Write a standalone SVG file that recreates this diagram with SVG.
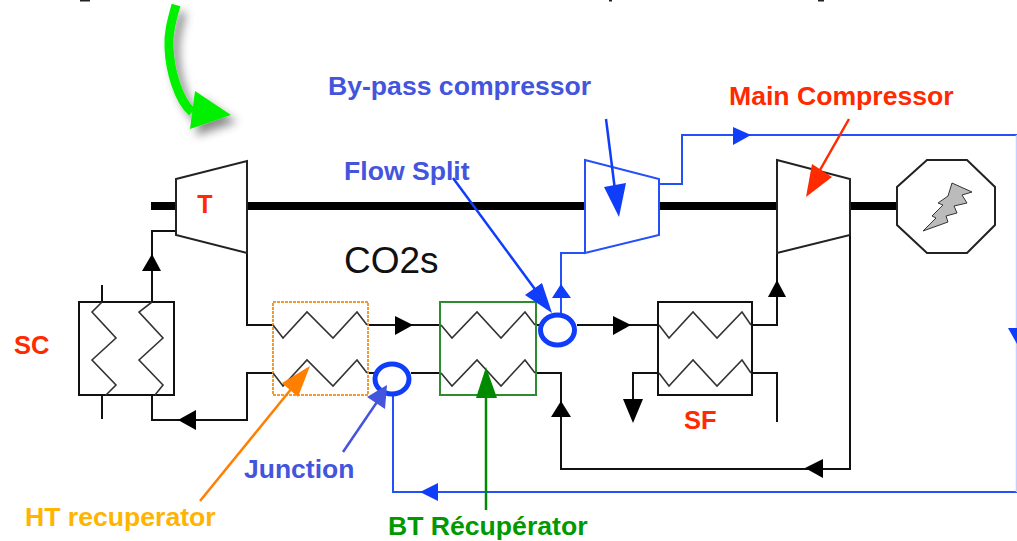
<svg xmlns="http://www.w3.org/2000/svg" width="1017" height="541" viewBox="0 0 1017 541">
<defs>
<style>
text{font-family:"Liberation Sans",Arial,sans-serif;font-weight:700}
.k{fill:none;stroke:#111;stroke-width:2}
.z{fill:none;stroke:#333;stroke-width:1.6}
.b{fill:none;stroke:#2350f8;stroke-width:2}
.ah{fill:#000}
.bh{fill:#0f3dfa}
.shaft{stroke:#000;stroke-width:8;fill:none}
.machine{fill:#fff;stroke:#222;stroke-width:2}
.ring{fill:none;stroke:#0f3dfa;stroke-width:5}
</style>
<filter id="sh" x="-50%" y="-50%" width="200%" height="200%"><feDropShadow dx="6" dy="7" stdDeviation="5" flood-color="#000" flood-opacity="0.45"/></filter>
</defs>
<rect width="1017" height="541" fill="#fff"/>
<g id="top-marks" fill="#222"><rect x="80" y="0" width="10" height="1.5"/><rect x="609" y="0" width="3" height="1.5"/><rect x="818" y="0" width="6" height="1.5"/></g>
<g id="green-arrow" filter="url(#sh)">
<path d="M176 5C171 23 168 35 169 48C170 70 178 100 192 112" fill="none" stroke="#00f000" stroke-width="9"/>
<polygon points="195,91 231,115 190,129" fill="#00f000"/>
</g>
<g id="shaft"><path class="shaft" d="M151 206H176M247 206H585M659 206H777M850 206H897"/></g>
<g id="connectors">
<path class="k" d="M176 231H152V302M102 285V302M102 395V419M152 395V420H247V373H273M247 253V325H273M368 325H440M368 373H375M411 373H440M536 325H540M577 325H658M536 373H561V469H850V235M658 373H633V400M752 325H777V253M752 373H777V422"/>
<path class="b" d="M585 253H561V313M659 184H682V135H1017M1017 492H393V396"/>
<path d="M1016.5 135V492" fill="none" stroke="#c5d0ff" stroke-width="1.5"/>
<polygon class="ah" points="178,420 196,410 196,430"/>
<polygon class="ah" points="152,254 142,271 161,271"/>
<polygon class="ah" points="413,325 395,316 395,335"/>
<polygon class="ah" points="631,325 613,316 613,335"/>
<polygon class="ah" points="561,401 551,417 571,417"/>
<polygon class="ah" points="805,468 823,459 823,478"/>
<polygon class="ah" points="633,423 623,399 643,399"/>
<polygon class="ah" points="777,280 768,297 786,297"/>
<polygon class="bh" points="561,284 552,298 571,298"/>
<polygon class="bh" points="751,135 733,127 733,145"/>
<polygon class="bh" points="420,492 438,483 438,501"/>
<polygon class="bh" points="1017,344 1008,328 1017,328"/>
</g>
<g id="T"><polygon class="machine" points="176,179 247,161 247,253 176,235"/><text x="205" y="213" font-size="25" fill="#ff2a00" text-anchor="middle">T</text></g>
<g id="bypass-compressor"><polygon class="machine" style="stroke:#2350f8" points="585,160 659,179 659,235 585,253"/></g>
<g id="main-compressor"><polygon class="machine" points="777,160 850,179 850,235 777,253"/></g>
<g id="generator"><polygon class="machine" points="927,160 967,160 995,187 995,225 967,253 927,253 897,225 897,187"/>
<polygon points="952,183 972,192 962,195 967,203 954,206 957,213 946,216 948,222 923,231 936,218 932,216 943,205 938,203 948,196" fill="#bbb" stroke="#333" stroke-width="1"/></g>
<g id="SC"><rect class="k" x="79" y="302" width="95" height="93"/>
<path class="z" d="M102 302L92 312L116 338L92 360L116 385L106 395M152 302L139 312L163 338L139 360L163 385L155 395"/></g>
<g id="HT"><rect x="273" y="302" width="95" height="93" fill="none" stroke="#f59a23" stroke-width="2" stroke-dasharray="3 1"/>
<path class="z" d="M273 325L283 338L307 312L333 338L357 312L367 325M273 373L283 386L307 360L333 386L357 360L367 373"/></g>
<g id="BT"><rect x="440" y="302" width="96" height="93" fill="none" stroke="#2e8b2e" stroke-width="2"/>
<path class="z" d="M441 325L452 338L477 312L501 338L525 312L535 325M441 373L452 386L477 360L501 386L525 360L535 373"/></g>
<g id="SF"><rect class="k" x="658" y="302" width="94" height="93"/>
<path class="z" d="M659 325L669 338L693 312L717 338L742 312L751 325M659 373L669 386L693 360L717 386L742 360L751 373"/></g>
<g id="junction"><ellipse class="ring" cx="392" cy="379" rx="17" ry="15"/></g>
<g id="flow-split"><ellipse class="ring" cx="557.5" cy="330" rx="17" ry="15"/></g>
<g id="callouts">
<path d="M453 178L540 296" fill="none" stroke="#0f3dfa" stroke-width="2.5"/>
<polygon class="bh" points="552,313 525,295 542,283"/>
<path d="M606 119L615 190" fill="none" stroke="#0f3dfa" stroke-width="2.5"/><polygon class="bh" points="619,217 604,187 626,183"/>
<path d="M849 119L820 170" fill="none" stroke="#ff2a00" stroke-width="2.5"/><polygon points="806,197 812,164 832,177" fill="#ff2a00"/>
<path d="M200 501L292 388" fill="none" stroke="#ff7f00" stroke-width="2.5"/><polygon points="310,366 282,383 298,397" fill="#ff7f00"/>
<path d="M343 452L377 402" fill="none" stroke="#4455dd" stroke-width="2.5"/><polygon points="387,385 367,397 385,409" fill="#4455dd"/>
<path d="M486 510V395" fill="none" stroke="#008a00" stroke-width="2.5"/><polygon points="486,367 476,398 497,398" fill="#008a00"/>
</g>
<g id="labels">
<text x="328" y="95" font-size="26.6" fill="#4455dd">By-pass compressor</text>
<text x="344" y="180" font-size="26.6" fill="#4455dd">Flow Split</text>
<text x="729" y="105" font-size="26.6" fill="#ff2a00">Main Compressor</text>
<text x="14" y="354" font-size="25.5" fill="#ff2a00">SC</text>
<text x="684" y="429" font-size="25.5" fill="#ff2a00">SF</text>
<text x="244" y="478" font-size="26.5" fill="#4455dd">Junction</text>
<text x="25" y="526" font-size="26.6" fill="#ffb400">HT recuperator</text>
<text x="388" y="535" font-size="26.6" fill="#009a00">BT Récupérator</text>
<text x="344" y="273" font-size="37" fill="#111" style="font-weight:400">CO2s</text>
</g>
</svg>
